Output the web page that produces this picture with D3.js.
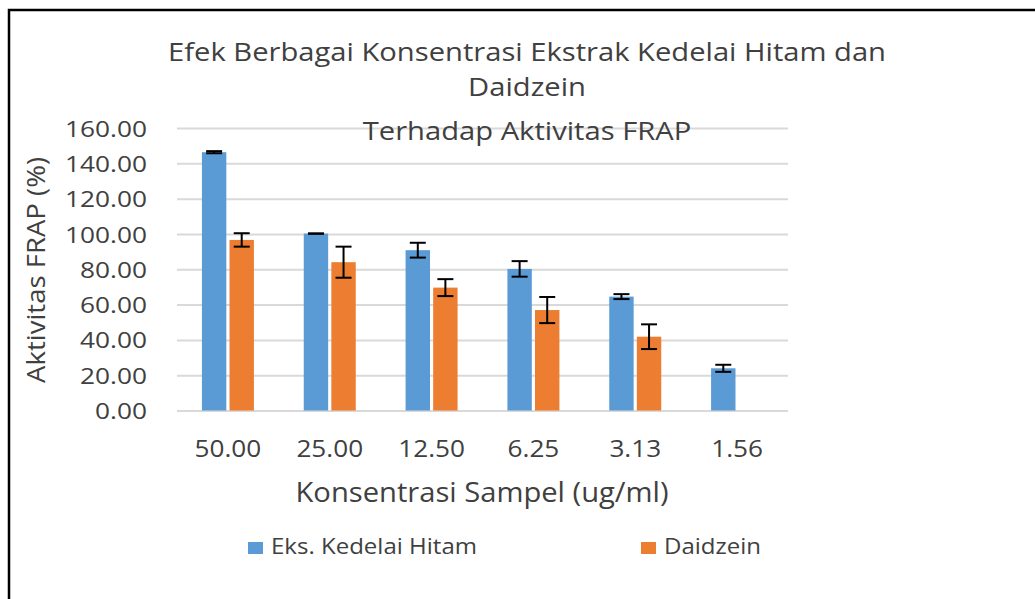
<!DOCTYPE html>
<html>
<head>
<meta charset="utf-8">
<script src="https://cdn.jsdelivr.net/npm/d3@7"></script>
<style>
  body { margin: 0; background: #fff; }
  text { font-family: "Open Sans", sans-serif; fill: #404040; }
</style>
</head>
<body>
<svg id="chart"></svg>
<script>
// data
const categories = ["50.00", "25.00", "12.50", "6.25", "3.13", "1.56"];
const seriesNames = ["Eks. Kedelai Hitam", "Daidzein"];
const ekstrak = [146.3, 100.2, 90.8, 80.2, 64.5, 23.9];
const ekstrakErr = [0.6, 0.1, 4.2, 4.4, 1.4, 2.0];
const daidzein = [96.6, 84.0, 69.6, 56.9, 41.8, null];
const daidzeinErr = [3.8, 8.8, 4.8, 7.4, 7.0, null];
const yTicks = [0, 20, 40, 60, 80, 100, 120, 140, 160];
const titleLines = ["Efek Berbagai Konsentrasi Ekstrak Kedelai Hitam dan", "Daidzein", "Terhadap Aktivitas FRAP"];

const colors = ["#5B9BD5", "#ED7D31"];
const width = 1035;
const height = 599;
const plot = { left: 177, right: 788, top: 128, bottom: 410.5 };

// stretch texts horizontally so that refText ends up targetWidth wide
function fitText(sel, refText, targetWidth) {
  let natural = null;
  sel.each(function () {
    if (this.textContent === refText) natural = this.getComputedTextLength();
  });
  if (!natural) natural = sel.node().getComputedTextLength();
  const k = targetWidth / natural;
  sel.each(function () {
    const w = this.getComputedTextLength();
    d3.select(this).attr("textLength", w * k).attr("lengthAdjust", "spacingAndGlyphs");
  });
}

const svg = d3.select("#chart").attr("width", width).attr("height", height);

const x = d3.scaleBand().domain(categories).range([plot.left, plot.right]);
const inner = d3.scaleBand().domain(seriesNames).range([0, 52]).paddingInner(6 / 52);
const y = d3.scaleLinear().domain([0, 160]).range([plot.bottom, plot.top]);

// gridlines
const grid = svg.append("g")
  .attr("transform", `translate(${plot.left},0)`)
  .call(d3.axisLeft(y).tickValues(yTicks).tickSize(-(plot.right - plot.left)).tickFormat(""));
grid.select(".domain").remove();
grid.selectAll("line").attr("stroke", "#D9D9D9").attr("stroke-width", 2);

// y tick labels
const yAxis = svg.append("g")
  .attr("transform", "translate(147,0)")
  .call(d3.axisLeft(y).tickValues(yTicks).tickSize(0).tickPadding(0).tickFormat(d3.format(".2f")));
yAxis.select(".domain").remove();
yAxis.selectAll("text")
  .attr("x", 0)
  .attr("dy", "0.36em")
  .style("font-size", "22.5px")
  .style("font-family", "'Open Sans', sans-serif")
  .attr("fill", "#404040");
fitText(yAxis.selectAll("text"), "160.00", 82);

// x tick labels
const xAxis = svg.append("g")
  .attr("transform", "translate(0,457)")
  .call(d3.axisBottom(x).tickSize(0).tickPadding(0));
xAxis.select(".domain").remove();
xAxis.selectAll("text")
  .attr("y", 0)
  .attr("dy", null)
  .style("font-size", "24px")
  .style("font-family", "'Open Sans', sans-serif")
  .attr("fill", "#404040");
fitText(xAxis.selectAll("text"), "25.00", 66.7);

// bars
const series = [
  { name: seriesNames[0], values: ekstrak, errs: ekstrakErr, color: colors[0] },
  { name: seriesNames[1], values: daidzein, errs: daidzeinErr, color: colors[1] },
];

series.forEach(function (s) {
  const rows = categories.map((c, i) => ({ cat: c, v: s.values[i], e: s.errs[i] }))
    .filter(d => d.v != null);
  const offset = (x.bandwidth() - 52) / 2;
  const g = svg.append("g");
  g.selectAll("rect")
    .data(rows)
    .enter()
    .append("rect")
    .attr("x", d => x(d.cat) + offset + inner(s.name))
    .attr("width", inner.bandwidth())
    .attr("y", d => y(d.v))
    .attr("height", d => y(0) - y(d.v))
    .attr("fill", s.color);

  const eb = g.selectAll("g.err")
    .data(rows)
    .enter()
    .append("g")
    .attr("class", "err")
    .attr("transform", d => `translate(${x(d.cat) + offset + inner(s.name) + inner.bandwidth() / 2},0)`);
  eb.append("line")
    .attr("y1", d => y(d.v + d.e)).attr("y2", d => y(d.v - d.e))
    .attr("stroke", "#000").attr("stroke-width", 2);
  eb.append("line")
    .attr("x1", -8).attr("x2", 8)
    .attr("y1", d => y(d.v + d.e)).attr("y2", d => y(d.v + d.e))
    .attr("stroke", "#000").attr("stroke-width", 2);
  eb.append("line")
    .attr("x1", -8).attr("x2", 8)
    .attr("y1", d => y(d.v - d.e)).attr("y2", d => y(d.v - d.e))
    .attr("stroke", "#000").attr("stroke-width", 2);
});

// title
const titleY = [61, 96, 140];
const title = svg.append("g").selectAll("text")
  .data(titleLines)
  .enter()
  .append("text")
  .attr("x", 527)
  .attr("y", (d, i) => titleY[i])
  .attr("text-anchor", "middle")
  .style("font-size", "25px")
  .text(d => d);
fitText(title, titleLines[0], 718);

// axis titles
const xTitle = svg.append("text")
  .attr("x", 482)
  .attr("y", 502)
  .attr("text-anchor", "middle")
  .style("font-size", "27px")
  .text("Konsentrasi Sampel (ug/ml)");
fitText(xTitle, "Konsentrasi Sampel (ug/ml)", 373);

svg.append("text")
  .attr("transform", "translate(45,270) rotate(-90)")
  .attr("text-anchor", "middle")
  .style("font-size", "25px")
  .attr("textLength", 226)
  .attr("lengthAdjust", "spacingAndGlyphs")
  .text("Aktivitas FRAP (%)");

// legend
const legendX = [248, 641];
const legend = svg.append("g").selectAll("g")
  .data(series)
  .enter()
  .append("g")
  .attr("transform", (d, i) => `translate(${legendX[i]},542)`);
legend.append("rect")
  .attr("width", 15)
  .attr("height", 12)
  .attr("fill", d => d.color);
const legendText = legend.append("text")
  .attr("x", 23)
  .attr("y", 12)
  .style("font-size", "22px")
  .text(d => d.name);
fitText(legendText, seriesNames[0], 206);

// frame (left and top edge only are visible)
svg.append("path")
  .attr("d", `M9,${height + 5} V10 H${width + 5}`)
  .attr("fill", "none")
  .attr("stroke", "#000")
  .attr("stroke-width", 2.5);
</script>
</body>
</html>
